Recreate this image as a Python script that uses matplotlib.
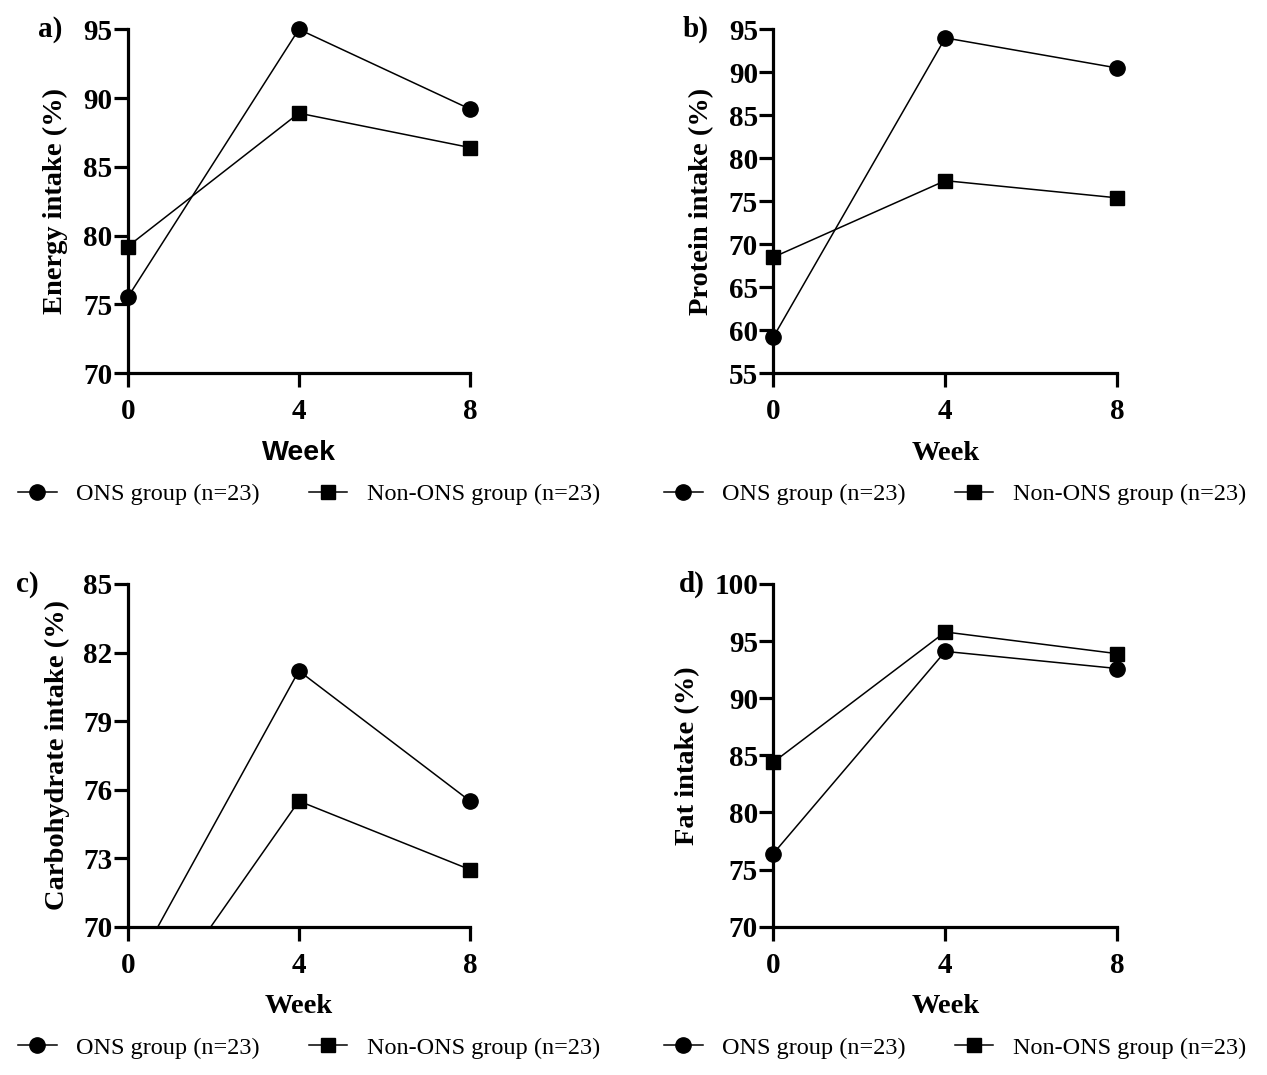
import matplotlib
matplotlib.use("Agg")
import matplotlib.pyplot as plt
from matplotlib.lines import Line2D

W, H = 1267, 1075

weeks = [0, 4, 8]
week_ticks = [0, 4, 8]

energy_ons = [75.5, 95.0, 89.2]
energy_non = [79.2, 88.9, 86.4]
protein_ons = [59.2, 94.0, 90.5]
protein_non = [68.5, 77.4, 75.4]
carb_ons = [67.6, 81.2, 75.5]
carb_non = [64.8, 75.5, 72.5]
fat_ons = [76.4, 94.1, 92.6]
fat_non = [84.4, 95.8, 93.9]

energy_ticks = [70, 75, 80, 85, 90, 95]
protein_ticks = [55, 60, 65, 70, 75, 80, 85, 90, 95]
carb_ticks = [70, 73, 76, 79, 82, 85]
fat_ticks = [70, 75, 80, 85, 90, 95, 100]

labels = ["ONS group (n=23)", "Non-ONS group (n=23)"]

SERIF = "Liberation Serif"
SANS = "Liberation Sans"
TICK_FS = 21
LAB_FS = 20.5

# pixel frame of each panel: (x of week 0, x of week 8, y of lowest tick, y of top tick)
panels = [
    dict(tag="a)", ylabel="Energy intake (%)", ons=energy_ons, non=energy_non,
         yticks=energy_ticks, frame=(127.7, 470, 373, 29.3), tag_x=62,
         ylab_x=55, week_font=SANS, leg_x=18),
    dict(tag="b)", ylabel="Protein intake (%)", ons=protein_ons, non=protein_non,
         yticks=protein_ticks, frame=(773.3, 1117.3, 373.3, 29.3), tag_x=709,
         ylab_x=702, week_font=SERIF, leg_x=664),
    dict(tag="c)", ylabel="Carbohydrate intake (%)", ons=carb_ons, non=carb_non,
         yticks=carb_ticks, frame=(127.7, 470, 926.7, 584), tag_x=39,
         ylab_x=57, week_font=SERIF, leg_x=18),
    dict(tag="d)", ylabel="Fat intake (%)", ons=fat_ons, non=fat_non,
         yticks=fat_ticks, frame=(773.3, 1117.3, 926.7, 584), tag_x=705,
         ylab_x=688, week_font=SERIF, leg_x=664),
]

XPAD = 0.45

fig = plt.figure(figsize=(W / 100, H / 100), dpi=100)

for p in panels:
    x0, x8, ylo_px, yhi_px = p["frame"]
    ylo, yhi = p["yticks"][0], p["yticks"][-1]
    ppx = (x8 - x0) / 8
    ppy = (ylo_px - yhi_px) / (yhi - ylo)
    ytop = yhi + 0.03 * (yhi - ylo)
    left = x0 - XPAD * ppx
    right = x8 + XPAD * ppx
    bottom = ylo_px
    top = yhi_px - (ytop - yhi) * ppy
    ax = fig.add_axes([left / W, (H - bottom) / H, (right - left) / W, (bottom - top) / H])
    ax.set_xlim(-XPAD, 8 + XPAD)
    ax.set_ylim(ylo, ytop)

    ax.plot(weeks, p["ons"], color="black", lw=1.1, marker="o", ms=11, zorder=3)
    ax.plot(weeks, p["non"], color="black", lw=1.1, marker="s", ms=10.5, zorder=3)

    for side in ("top", "right"):
        ax.spines[side].set_visible(False)
    ax.spines["left"].set_position(("data", 0))
    ax.spines["left"].set_bounds(ylo, yhi)
    ax.spines["bottom"].set_bounds(0, 8)
    for side in ("left", "bottom"):
        ax.spines[side].set_linewidth(2.3)

    ax.set_xticks(week_ticks)
    ax.set_yticks(p["yticks"])
    ax.tick_params(axis="both", direction="out", length=10, width=2.3)
    ax.tick_params(axis="y", pad=1)
    ax.tick_params(axis="x", pad=8)
    for lab in ax.get_xticklabels() + ax.get_yticklabels():
        lab.set_fontfamily(SERIF)
        lab.set_fontweight("bold")
        lab.set_fontsize(TICK_FS)

    # panel tag, y label, x label
    fig.text(p["tag_x"] / W, 1 - yhi_px / H, p["tag"], ha="right", va="center",
             family=SERIF, weight="bold", fontsize=TICK_FS)
    fig.text(p["ylab_x"] / W, 1 - (ylo_px + yhi_px) / 2 / H, p["ylabel"], rotation=90,
             ha="center", va="center", family=SERIF, weight="bold", fontsize=LAB_FS)
    fig.text((x0 + x8) / 2 / W, 1 - (ylo_px + 80) / H, "Week", ha="center", va="center",
             family=p["week_font"], weight="bold", fontsize=LAB_FS)

    handles = [
        Line2D([], [], color="black", lw=1.1, marker="o", ms=11),
        Line2D([], [], color="black", lw=1.1, marker="s", ms=10.5),
    ]
    fig.legend(handles, labels, loc="center left",
               bbox_to_anchor=(p["leg_x"] / W, 1 - (ylo_px + 121) / H),
               ncol=2, frameon=False, handlelength=1.6, handletextpad=0.8,
               columnspacing=2.0, borderaxespad=0, borderpad=0,
               prop=dict(family=SERIF, size=17.5))

fig.savefig("out.png", dpi=100)
